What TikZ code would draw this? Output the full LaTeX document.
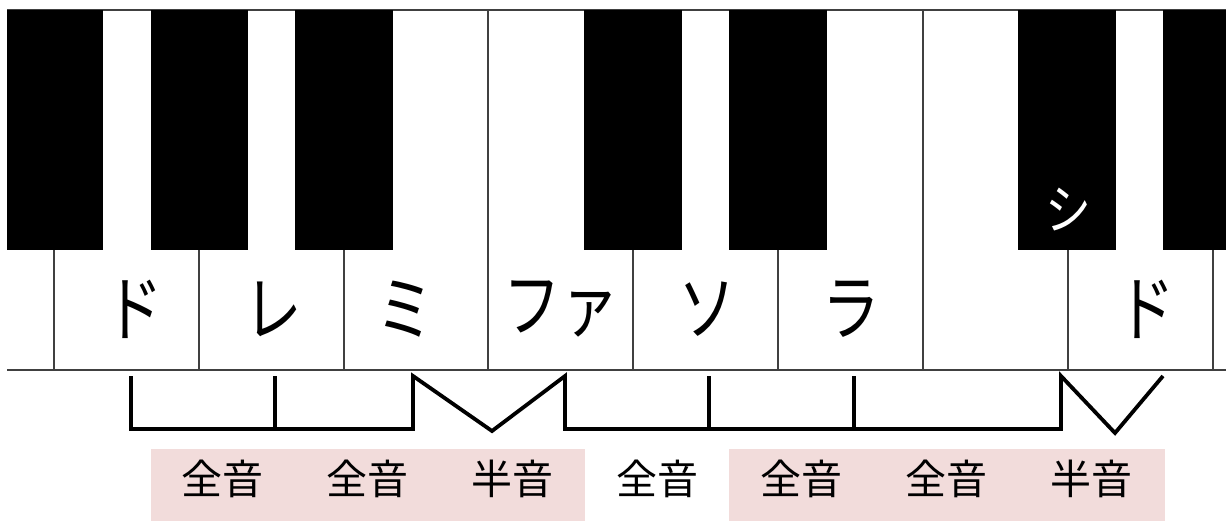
\documentclass[tikz,border=0pt]{standalone}
\usepackage{fontspec}
\newfontfamily\jp{Noto Sans CJK JP}
\definecolor{pinkbg}{HTML}{F2DCDB}
\definecolor{thingray}{HTML}{404040}
\begin{document}
\begin{tikzpicture}[x=1pt,y=-1pt,
  blackkey/.style={fill=black},
  keyline/.style={draw=thingray,line width=1.2pt},
  bracket/.style={draw=black,line width=3.8pt,line join=miter},
  notelabel/.style={font=\jp\fontsize{72}{72}\selectfont,inner sep=0pt,xscale=0.8,transform shape},
  blacklabel/.style={font=\jp\fontsize{54}{54}\selectfont,inner sep=0pt,text=white,xscale=0.85,transform shape},
  steplabel/.style={font=\jp\fontsize{41}{41}\selectfont,inner sep=0pt},
  pinkbox/.style={fill=pinkbg},
]
\useasboundingbox (0,0) rectangle (1226,521);
% key outline lines
\draw[keyline] (7,10) -- (1226,10);
\draw[keyline] (7,370) -- (1226,370);
\foreach \x in {54,199,344,633,778,1068,1213} \draw[keyline] (\x,250) -- (\x,370);
\foreach \x in {488,923} \draw[keyline] (\x,10) -- (\x,370);
% black keys
\fill[blackkey] (7,10) rectangle (103,250);
\fill[blackkey] (151,10) rectangle (248,250);
\fill[blackkey] (295,10) rectangle (393,250);
\fill[blackkey] (584,10) rectangle (682,250);
\fill[blackkey] (729,10) rectangle (827,250);
\fill[blackkey] (1018,10) rectangle (1116,250);
\fill[blackkey] (1163,10) rectangle (1226,250);
% note labels
\node[notelabel] (do1) at (134,309) {ド};
\node[notelabel] (re) at (273,309) {レ};
\node[notelabel] (mi) at (405,309) {ミ};
\node[notelabel] (fa) at (561,309) {ファ};
\node[notelabel] (so) at (707,309) {ソ};
\node[notelabel] (la) at (851,309) {ラ};
\node[notelabel] (do2) at (1146,309) {ド};
\node[blacklabel] (si) at (1068,210) {シ};
% bracket
\draw[bracket] (131,376) -- (131,429) -- (413,429) -- (413,376) -- (492,431) -- (565,376) -- (565,429) -- (1061,429) -- (1061,376) -- (1115,433) -- (1163,376);
\foreach \x in {275,709,854} \draw[bracket] (\x,376) -- (\x,429);
% pink boxes
\fill[pinkbox] (151,449) rectangle (585,521);
\fill[pinkbox] (729,449) rectangle (1165,521);
% step labels
\node[steplabel] (s1) at (222,479) {全音};
\node[steplabel] (s2) at (367,479) {全音};
\node[steplabel] (s3) at (512,479) {半音};
\node[steplabel] (s4) at (657,479) {全音};
\node[steplabel] (s5) at (801,479) {全音};
\node[steplabel] (s6) at (946,479) {全音};
\node[steplabel] (s7) at (1091,479) {半音};
\end{tikzpicture}
\end{document}
